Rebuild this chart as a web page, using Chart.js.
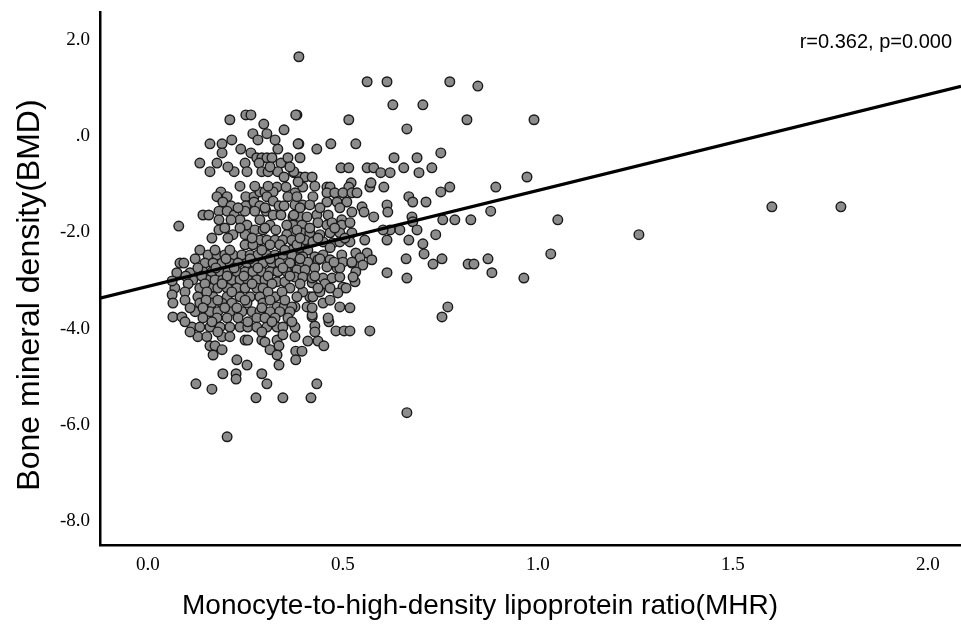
<!DOCTYPE html>
<html><head><meta charset="utf-8">
<script src="https://cdn.jsdelivr.net/npm/chart.js@4.4.1/dist/chart.umd.min.js"></script>
<style>html,body{margin:0;padding:0;background:#fff;}canvas{display:block;}</style>
</head><body>
<canvas id="c" width="961" height="629"></canvas>
<script>
// ---- data (MHR on x, BMD T-score on y) ----
const mhrA = [
0.387,0.562,0.613,0.774,0.846,0.705,0.628,0.818,0.990,0.515,
0.664,0.382,0.387,0.433,0.469,0.533,0.390,0.631,0.690,0.751,
0.728,0.656,0.695,0.495,0.515,0.562,0.579,0.597,0.621,0.374,
0.390,0.403,0.421,0.397,0.459,0.467,0.521,0.515,0.569,0.572,
0.605,0.774,0.751,0.713,0.892,0.972,0.879,0.756,0.787,0.828,
1.051,0.738,0.705,0.708,0.731,0.754,0.821,0.836,0.872,0.882,
0.964,1.033,0.769,0.754,1.259,1.600,1.777,0.421,0.428,0.464,
0.482,0.503,0.518,0.569,0.410,0.436,0.451,0.379,0.395,0.379,
0.433,0.418,0.664,0.669,0.679,0.677,0.679,0.690,0.646,0.621,
0.603,0.669,0.613,0.556,0.662,0.613,0.664,0.579,0.613,0.615,
0.549,0.554,0.523,0.562,0.533,0.574,0.544,0.551,0.533,0.531,
0.526,0.500,0.487,0.492,0.462,0.449,0.408,0.377,0.421,0.415,
0.423,0.397,0.421];
const bmdA = [
1.65,1.13,1.13,1.13,1.04,0.65,0.65,0.34,0.34,0.34,
0.15,0.44,-0.16,-0.27,-0.16,-0.16,-0.45,-0.45,-0.45,-0.35,
-0.66,-0.66,-0.76,-0.66,-0.66,-0.66,-0.66,-0.76,-0.76,-0.76,
-0.85,-0.85,-0.85,-1.06,-1.06,-1.06,-0.97,-1.06,-1.06,-0.97,
-1.06,-1.06,-1.16,-1.37,-1.06,-0.85,-1.56,-1.74,-1.74,-1.74,
-1.74,-2.05,-2.24,-2.45,-2.66,-2.55,-2.66,-2.66,-2.55,-2.84,
-2.95,-2.45,-3.55,-3.76,-2.05,-1.47,-1.47,-3.76,-3.95,-3.86,
-4.05,-4.05,-4.05,-4.05,-4.26,-4.26,-4.36,-4.47,-4.47,-4.65,
-5.15,-5.44,-5.75,-1.26,-1.37,-1.68,-1.78,-1.95,-1.95,-1.95,
-1.95,-2.16,-2.16,-2.16,-2.55,-2.84,-2.95,-1.68,-1.43,-1.58,
-1.47,-1.58,-1.58,-2.43,-2.43,-2.57,-2.53,-2.68,-2.82,-3.03,
-2.93,-3.14,-3.26,-3.55,-3.78,-3.47,-3.55,-3.55,-3.72,-3.34,
-3.34,-3.24,-3.05];

const mhrB = [
0.377,0.423,0.459,0.479,0.500,0.523,0.536,0.377,0.397,0.415,
0.459,0.485,0.510,0.372,0.390,0.408,0.433,0.462,0.497,0.372,
0.395,0.436,0.459,0.472,0.497,0.518,0.372,0.395,0.415,0.441,
0.467,0.492,0.523,0.377,0.403,0.423,0.449,0.474,0.492,0.518,
0.369,0.390,0.410,0.467,0.377,0.397,0.428,0.449,0.497,0.372,
0.390,0.410,0.436,0.467,0.500,0.523,0.382,0.403,0.428,0.459,
0.485,0.377,0.397,0.421,0.449,0.472,0.492];
const bmdB = [
-1.18,-1.26,-1.18,-1.18,-1.18,-1.18,-1.18,-1.43,-1.43,-1.43,
-1.37,-1.37,-1.37,-1.68,-1.68,-1.68,-1.64,-1.64,-1.74,-1.85,
-1.85,-1.80,-1.85,-1.80,-1.85,-1.80,-2.01,-2.01,-2.01,-2.05,
-2.01,-2.01,-2.01,-2.20,-2.16,-2.20,-2.20,-2.22,-2.20,-2.20,
-2.37,-2.32,-2.37,-2.32,-2.51,-2.51,-2.51,-2.47,-2.47,-2.68,
-2.64,-2.62,-2.57,-2.57,-2.62,-2.64,-2.78,-2.78,-2.74,-2.72,
-2.74,-2.93,-2.93,-2.95,-2.95,-2.95,-2.93];

const mhrC = [
0.251,0.264,0.379,0.210,0.297,0.269,0.305,0.349,0.159,0.190,
0.190,0.238,0.264,0.333,0.385,0.133,0.177,0.249,0.279,0.292,
0.305,0.318,0.341,0.359,0.285,0.159,0.221,0.254,0.292,0.308,
0.333,0.349,0.374,0.385,0.331,0.354,0.187,0.177,0.203,0.251,
0.272,0.287,0.300,0.321,0.305,0.321,0.359,0.382,0.192,0.213,
0.251,0.272,0.287,0.336,0.349,0.141,0.156,0.182,0.203,0.221,
0.236,0.249,0.274,0.303,0.321,0.341,0.374,0.182,0.213,0.254,
0.287,0.313,0.356,0.079,0.182,0.218,0.249,0.274,0.295,0.328,
0.356,0.382];
const bmdC = [
0.44,0.44,0.44,0.34,0.25,0.05,0.05,0.13,-0.16,-0.16,
-0.35,-0.27,-0.35,-0.27,-0.16,-0.56,-0.56,-0.56,-0.45,-0.45,
-0.45,-0.45,-0.56,-0.45,-0.56,-0.74,-0.74,-0.74,-0.74,-0.74,
-0.74,-0.85,-0.74,-0.95,-1.06,-1.06,-1.16,-1.26,-1.26,-1.26,
-1.26,-1.16,-1.16,-1.16,-1.26,-1.35,-1.26,-1.26,-1.37,-1.45,
-1.45,-1.37,-1.45,-1.45,-1.45,-1.64,-1.64,-1.56,-1.56,-1.64,
-1.74,-1.56,-1.56,-1.56,-1.64,-1.64,-1.64,-1.74,-1.74,-1.85,
-1.74,-1.85,-1.85,-1.87,-1.95,-2.05,-2.05,-1.95,-1.95,-1.95,
-2.05,-1.95];

const mhrD = [
0.287,0.305,0.326,0.346,0.369,0.249,0.269,0.313,0.338,0.382,
0.082,0.092,0.154,0.177,0.197,0.218,0.241,0.262,0.282,0.305,
0.326,0.346,0.369,0.146,0.167,0.190,0.210,0.231,0.254,0.274,
0.295,0.318,0.338,0.364,0.074,0.108,0.141,0.164,0.185,0.205,
0.228,0.249,0.269,0.292,0.313,0.333,0.356,0.115,0.151,0.172,
0.192,0.215,0.236,0.256,0.279,0.300,0.331,0.351,0.069,0.133,
0.159,0.179,0.203,0.228,0.249,0.279,0.295,0.364,0.062,0.128,
0.167,0.203,0.236,0.262,0.287,0.326,0.382,0.064,0.133,0.164,
0.190,0.215,0.254,0.295,0.331,0.349,0.369,0.121,0.159,0.179,
0.210,0.241,0.267,0.287,0.313,0.338,0.364,0.064,0.087,0.141,
0.177,0.203,0.231,0.279,0.300,0.326,0.359,0.113,0.133,0.159,
0.185,0.210,0.236,0.256,0.279,0.305,0.331,0.346,0.377,0.128,
0.151,0.190,0.210,0.249,0.256,0.292,0.331,0.346,0.377,0.062];
const bmdD = [
-2.16,-2.16,-2.16,-2.16,-2.16,-2.26,-2.26,-2.26,-2.26,-2.26,
-2.64,-2.64,-2.47,-2.47,-2.47,-2.47,-2.47,-2.47,-2.47,-2.47,
-2.47,-2.47,-2.47,-2.64,-2.64,-2.64,-2.64,-2.64,-2.64,-2.64,
-2.64,-2.64,-2.64,-2.64,-2.84,-2.84,-2.82,-2.82,-2.82,-2.82,
-2.82,-2.82,-2.82,-2.82,-2.82,-2.82,-2.82,-2.99,-2.99,-2.99,
-2.99,-2.99,-2.99,-2.99,-2.99,-2.99,-3.03,-3.03,-3.16,-3.16,
-3.16,-3.16,-3.16,-3.16,-3.16,-3.16,-3.16,-3.16,-3.30,-3.34,
-3.34,-3.34,-3.34,-3.34,-3.34,-3.34,-3.34,-3.47,-3.47,-3.47,
-3.47,-3.47,-3.47,-3.47,-3.55,-3.55,-3.55,-3.65,-3.65,-3.65,
-3.65,-3.65,-3.65,-3.65,-3.65,-3.65,-3.65,-3.76,-3.76,-3.78,
-3.78,-3.78,-3.78,-3.78,-3.78,-3.78,-3.78,-3.97,-3.97,-3.97,
-3.97,-3.97,-3.97,-3.97,-3.97,-3.97,-3.97,-3.97,-3.97,-4.17,
-4.17,-4.17,-4.17,-4.24,-4.24,-4.24,-4.24,-4.13,-4.17,-3.01];

const mhrE = [
0.159,0.172,0.190,0.167,0.300,0.313,0.336,0.331,0.228,0.254,
0.336,0.192,0.226,0.226,0.292,0.305,0.123,0.164,0.277,0.346,
0.203];
const bmdE = [
-4.36,-4.36,-4.44,-4.55,-4.28,-4.44,-4.36,-4.55,-4.65,-4.76,
-4.76,-4.94,-4.94,-5.05,-4.94,-5.15,-5.15,-5.26,-5.44,-5.44,
-6.25];

// overlapping points inside the dense core
const mhrF = [
0.133,0.172,0.210,0.292,0.351,
0.121,0.200,0.262,0.313,0.390,0.441,
0.128,0.174,0.221,0.282,0.346,0.492,
0.097,0.138,0.203,0.246,0.308,0.364,0.428,
0.103,0.146,0.190,0.267,0.318,0.390,0.454,
0.095,0.151,0.215,0.308,0.344,0.441,
0.095,0.149,0.179,0.249,0.313,0.351,0.467,
0.108,0.141,0.197,0.228,0.292,0.421,0.518,
0.095,0.164,0.256,0.318,0.369,
0.108,0.179,0.292,0.428,
0.236,0.274,0.308,0.428,
0.231,0.300,0.390,0.441,0.492,
0.197,0.236,0.300,0.415,0.479,
0.164,0.205,0.267,0.390,0.436,0.505,
0.205,0.313,0.364,
0.215,0.282,0.326,
0.436,0.467,0.508,
0.477,0.523];
const bmdF = [
-2.37,-2.37,-2.37,-2.37,-2.37,
-2.55,-2.55,-2.55,-2.55,-2.55,-2.55,
-2.74,-2.74,-2.74,-2.74,-2.74,-2.74,
-2.91,-2.91,-2.91,-2.91,-2.91,-2.91,-2.91,
-3.07,-3.07,-3.07,-3.07,-3.07,-3.07,-3.07,
-3.24,-3.24,-3.24,-3.24,-3.24,-3.24,
-3.41,-3.41,-3.41,-3.41,-3.41,-3.41,-3.41,
-3.57,-3.57,-3.57,-3.57,-3.57,-3.57,-3.57,
-3.86,-3.86,-3.86,-3.86,-3.86,
-4.07,-4.07,-4.07,-4.07,
-1.04,-1.04,-1.04,-1.04,
-1.49,-1.49,-1.49,-1.49,-1.49,
-1.91,-1.91,-1.91,-1.91,-1.91,
-2.12,-2.12,-2.12,-2.12,-2.12,-2.12,
-0.64,-0.64,-0.64,
-0.08,-0.08,-0.08,
-3.16,-3.16,-3.16,
-2.62,-2.62];

// fitted line endpoints
const fitLineMhr = [-0.123, 2.085];
const fitLineBmd = [-3.367, 1.035];

// axes
const xRange = [-0.123, 2.085];
const yRange = [-8.5, 2.58];
const xTickValues = [0, 0.5, 1.0, 1.5, 2.0];
const xTickLabels = ['0.0', '0.5', '1.0', '1.5', '2.0'];
const yTickValues = [-8, -6, -4, -2, 0, 2];
const yTickLabels = ['-8.0', '-6.0', '-4.0', '-2.0', '.0', '2.0'];

const xTitle = 'Monocyte-to-high-density lipoprotein ratio(MHR)';
const yTitle = 'Bone mineral density(BMD)';
const statText = 'r=0.362, p=0.000';

// ---- build ----
const mhr = [].concat(mhrA, mhrB, mhrC, mhrD, mhrE, mhrF);
const bmd = [].concat(bmdA, bmdB, bmdC, bmdD, bmdE, bmdF);
const points = mhr.map((x, i) => ({x: x, y: bmd[i]}));
const fitPoints = fitLineMhr.map((x, i) => ({x: x, y: fitLineBmd[i]}));

const textPlugin = {
  id: 'texts',
  afterDraw(chart) {
    const c = chart.ctx;
    c.save();
    c.fillStyle = '#000';
    c.textAlign = 'center';
    c.textBaseline = 'middle';
    c.font = '28px "Liberation Sans"';
    c.fillText(xTitle, 480, 606);
    c.save();
    c.translate(30, 295);
    c.rotate(-Math.PI / 2);
    c.font = '32px "Liberation Sans"';
    c.fillText(yTitle, 0, 0);
    c.restore();
    c.font = '20px "Liberation Sans"';
    c.textAlign = 'right';
    c.fillText(statText, 952, 42);
    c.restore();
  }
};

function noPad(s) { s.paddingLeft = 0; s.paddingRight = 0; s.paddingTop = 0; s.paddingBottom = 0; }

new Chart(document.getElementById('c'), {
  data: {
    datasets: [
      {
        type: 'line',
        data: fitPoints,
        borderColor: '#000',
        borderWidth: 3.2,
        pointRadius: 0,
        fill: false,
        order: 0
      },
      {
        type: 'scatter',
        data: points,
        pointRadius: 4.8,
        pointBorderWidth: 1.4,
        pointBackgroundColor: '#8c8c8c',
        pointBorderColor: '#1a1a1a',
        order: 1
      }
    ]
  },
  options: {
    responsive: false,
    devicePixelRatio: 1,
    animation: false,
    layout: {autoPadding: false, padding: {left: 0, top: 12, right: 0, bottom: 0}},
    plugins: {legend: {display: false}, tooltip: {enabled: false}},
    scales: {
      x: {
        type: 'linear',
        min: xRange[0],
        max: xRange[1],
        grid: {display: false, drawTicks: false},
        border: {display: true, color: '#000', width: 2.5},
        afterBuildTicks: s => { s.ticks = xTickValues.map(v => ({value: v})); },
        afterFit: s => { s.height = 84; noPad(s); },
        ticks: {
          autoSkip: false, maxRotation: 0, padding: 9, color: '#000',
          font: {family: 'Liberation Serif', size: 19},
          callback: (v, i) => xTickLabels[i]
        }
      },
      y: {
        type: 'linear',
        min: yRange[0],
        max: yRange[1],
        grid: {display: false, drawTicks: false},
        border: {display: true, color: '#000', width: 2.5},
        afterBuildTicks: s => { s.ticks = yTickValues.map(v => ({value: v})); },
        afterFit: s => { s.width = 100; noPad(s); },
        ticks: {
          autoSkip: false, padding: 10, color: '#000',
          font: {family: 'Liberation Serif', size: 19},
          callback: (v, i) => yTickLabels[i]
        }
      }
    }
  },
  plugins: [textPlugin]
});
</script>
</body></html>
